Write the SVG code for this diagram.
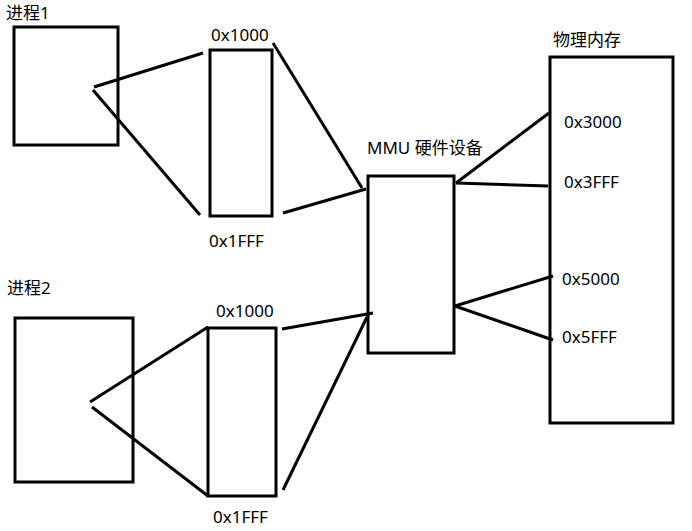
<svg xmlns="http://www.w3.org/2000/svg" width="692" height="531" viewBox="0 0 692 531">
<style>
.box{fill:none;stroke:#000;stroke-width:3}
.ln{stroke:#000;stroke-width:3;fill:none;stroke-linecap:butt}
text{font-family:"Noto Sans","Noto Sans CJK SC",sans-serif;font-size:17px;fill:#000}
</style>
<rect width="692" height="531" fill="#fff"/>
<g id="proc1">
<rect class="box" x="14" y="27" width="104" height="118"/>
<text x="6" y="19">进程1</text>
</g>
<g id="vm1">
<rect class="box" x="210" y="50" width="62" height="166"/>
<text x="211" y="41">0x1000</text>
<text x="209" y="247">0x1FFF</text>
</g>
<g id="proc2">
<rect class="box" x="15" y="318" width="118" height="164"/>
<text x="7" y="294">进程2</text>
</g>
<g id="vm2">
<rect class="box" x="208" y="328" width="68" height="168"/>
<text x="216" y="317">0x1000</text>
<text x="213" y="523">0x1FFF</text>
</g>
<g id="mmu">
<rect class="box" x="368" y="176" width="86" height="177"/>
<text x="367" y="154">MMU 硬件设备</text>
</g>
<g id="phys">
<rect class="box" x="550" y="57" width="123" height="366"/>
<text x="553" y="46">物理内存</text>
<text x="564" y="128">0x3000</text>
<text x="564" y="188">0x3FFF</text>
<text x="562" y="285">0x5000</text>
<text x="562" y="343">0x5FFF</text>
</g>
<g id="connectors">
<line class="ln" x1="94" y1="87" x2="203" y2="53"/>
<line class="ln" x1="93" y1="90" x2="200" y2="215"/>
<line class="ln" x1="90" y1="402" x2="208" y2="327"/>
<line class="ln" x1="92" y1="407" x2="208" y2="496"/>
<line class="ln" x1="273" y1="43" x2="362" y2="188"/>
<line class="ln" x1="283" y1="213" x2="366" y2="189"/>
<line class="ln" x1="282" y1="329" x2="373" y2="313"/>
<line class="ln" x1="283" y1="490" x2="367" y2="317"/>
<line class="ln" x1="456" y1="183" x2="549" y2="113"/>
<line class="ln" x1="456" y1="183" x2="548" y2="186"/>
<line class="ln" x1="455" y1="306" x2="553" y2="276"/>
<line class="ln" x1="455" y1="306" x2="553" y2="340"/>
</g>
</svg>
